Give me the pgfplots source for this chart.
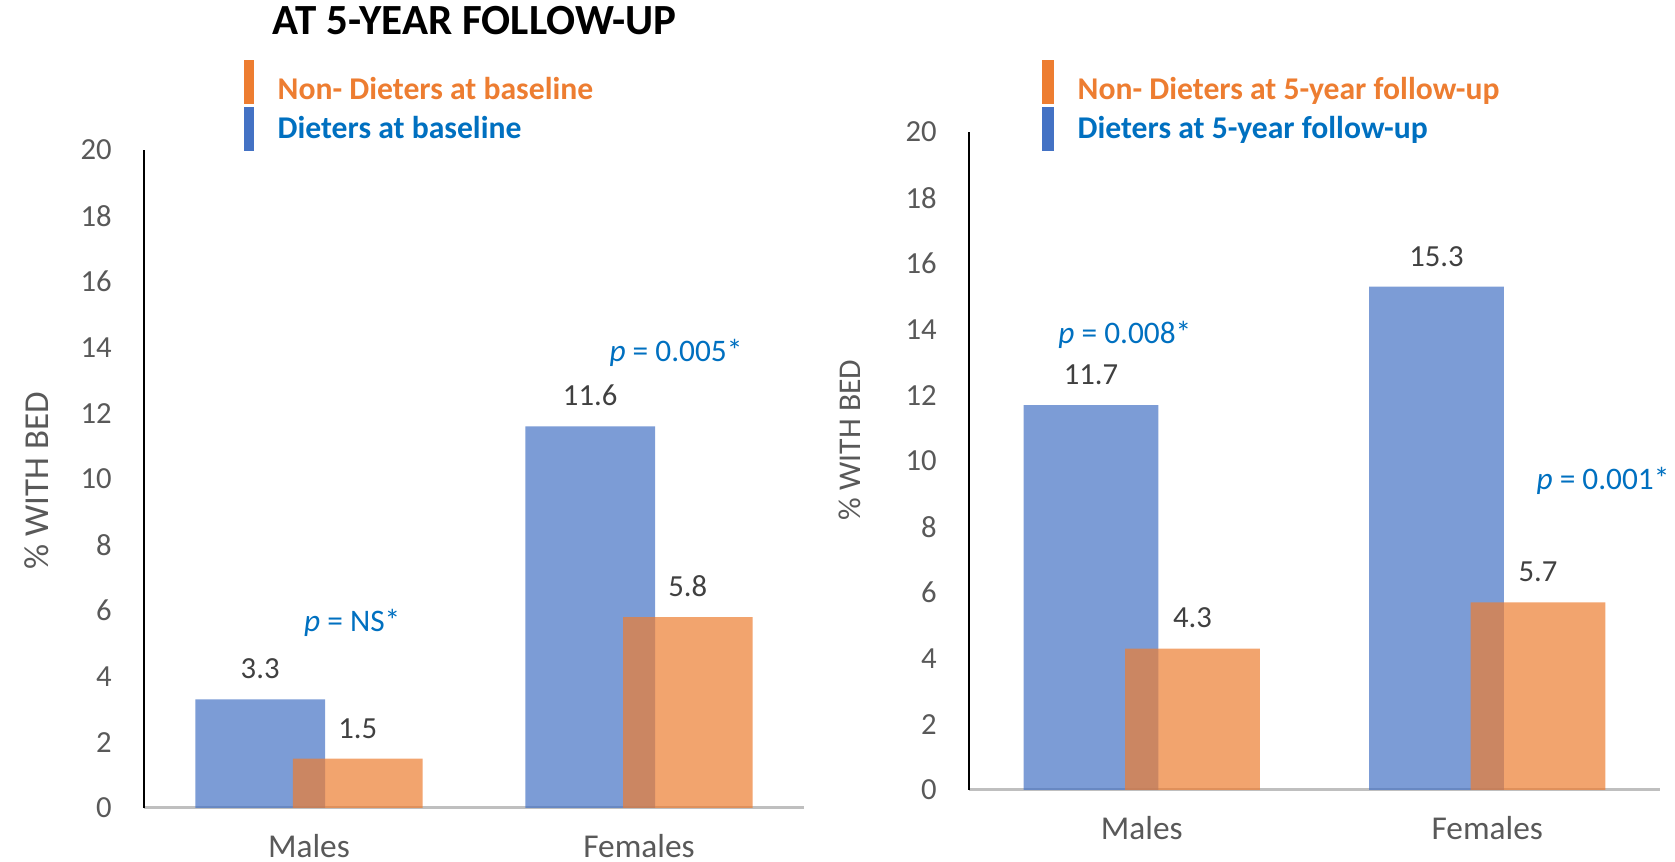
\documentclass[border=0pt]{standalone}
\usepackage{pgfplots}
\pgfplotsset{compat=1.18}
\usepackage{fontspec}
\setmainfont{Carlito}

\definecolor{barblue}{HTML}{4472C4}
\definecolor{barorange}{HTML}{ED7D31}
\definecolor{pblue}{HTML}{0070C0}
\definecolor{tickgrey}{HTML}{595959}
\definecolor{valgrey}{HTML}{404040}
\definecolor{basegrey}{HTML}{BFBFBF}

\pgfplotsset{
  bedchart/.style={
    scale only axis,
    ymin=0, ymax=20, xmin=-0.5, xmax=1.5,
    ytick={0,2,...,20},
    xtick={0,1}, xticklabels={Males,Females},
    axis lines*=left,
    major tick length=0pt,
    x axis line style={draw=basegrey, line width=0.9pt},
    y axis line style={draw=black, line width=0.35pt},
    /pgf/number format/assume math mode=true,
    yticklabel style={font=\fontsize{9.2}{11}\selectfont, text=tickgrey,
      anchor=east, inner sep=0pt, xshift=-9.5pt},
    xticklabel style={font=\fontsize{10}{12}\selectfont, text=tickgrey,
      anchor=base, inner sep=0pt, yshift=-14.8pt},
    ylabel={\% WITH BED},
    ylabel style={text=tickgrey, anchor=center},
    ybar,
    clip=false,
    nodes near coords={\pgfmathprintnumber[fixed,precision=1,fixed zerofill]{\pgfplotspointmeta}},
    every node near coord/.append style={font=\fontsize{9.2}{11}\selectfont,
      text=valgrey, inner sep=0pt, yshift=5.9pt, text opacity=1, fill opacity=1},
  },
  dieters/.style={fill=barblue, fill opacity=0.7, draw=none},
  nondieters/.style={fill=barorange, fill opacity=0.7, draw=none},
}
\tikzset{
  plabel/.style={anchor=base, inner sep=0pt, text=pblue,
    font=\fontsize{9.4}{11}\selectfont},
  legtext/.style={anchor=base west, inner sep=0pt,
    font=\bfseries\fontsize{9.5}{11}\selectfont},
}

\begin{document}
\begin{tikzpicture}
\path[use as bounding box] (0pt,0pt) rectangle (502.5pt,258.6pt);

% baseline
\begin{axis}[bedchart,
  at={(43.2pt,16.2pt)}, anchor=south west,
  width=198pt, height=197.4pt,
  ylabel style={at={(axis description cs:-0.162,0.497)},
    font=\fontsize{10.5}{12}\selectfont}]
\addplot[dieters, bar width=0.393, bar shift=-0.148] coordinates {(0,3.3) (1,11.6)};
\addplot[nondieters, bar width=0.393, bar shift=0.148] coordinates {(0,1.5) (1,5.8)};
\node[plabel] at (axis cs:0.131,5.36) {\textit{p} = NS*};
\node[plabel] at (axis cs:1.112,13.57) {\textit{p} = 0.005*};
\end{axis}

% 5-year follow-up
\begin{axis}[bedchart,
  at={(290.7pt,21.6pt)}, anchor=south west,
  width=207.3pt, height=197.4pt,
  ylabel style={at={(axis description cs:-0.172,0.532)},
    font=\fontsize{9.5}{11}\selectfont}]
\addplot[dieters, bar width=0.39, bar shift=-0.147] coordinates {(0,11.7) (1,15.3)};
\addplot[nondieters, bar width=0.39, bar shift=0.147] coordinates {(0,4.3) (1,5.7)};
\node[plabel] at (axis cs:-0.049,13.57) {\textit{p} = 0.008*};
\node[plabel] at (axis cs:1.335,9.12) {\textit{p} = 0.001*};
\end{axis}

% title
\node[anchor=base west, inner sep=0pt, font=\bfseries\fontsize{12.9}{15}\selectfont]
  at (81.6pt,248.1pt) {AT 5-YEAR FOLLOW-UP};

% legends
\fill[barorange] (73.05pt,227.4pt) rectangle (76.2pt,240.6pt);
\fill[barblue]   (73.05pt,213.3pt) rectangle (76.2pt,226.5pt);
\node[legtext, text=barorange] at (83.1pt,228.75pt) {Non- Dieters at baseline};
\node[legtext, text=pblue]     at (83.1pt,217.05pt) {Dieters at baseline};

\fill[barorange] (312.6pt,227.4pt) rectangle (316.2pt,240.6pt);
\fill[barblue]   (312.6pt,213.3pt) rectangle (316.2pt,226.5pt);
\node[legtext, text=barorange] at (323.1pt,228.75pt) {Non- Dieters at 5-year follow-up};
\node[legtext, text=pblue]     at (323.1pt,217.05pt) {Dieters at 5-year follow-up};
\end{tikzpicture}
\end{document}
